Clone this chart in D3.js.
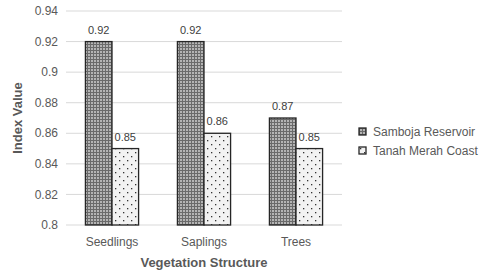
<!DOCTYPE html>
<html>
<head>
<meta charset="utf-8">
<script src="https://cdn.jsdelivr.net/npm/d3@7"></script>
<style>
  body { margin: 0; background: #fff; }
  text { font-family: "Liberation Sans", Arial, sans-serif; }
</style>
</head>
<body>
<svg id="chart" width="485" height="272"></svg>
<script>
const categories = ['Seedlings', 'Saplings', 'Trees']
const seriesNames = ['Samboja Reservoir', 'Tanah Merah Coast']
const samboja = [0.92, 0.92, 0.87]
const tanahMerah = [0.85, 0.86, 0.85]
const yTicks = [0.8, 0.82, 0.84, 0.86, 0.88, 0.9, 0.92, 0.94]

const svg = d3.select('#chart')
const margin = { left: 66, right: 143, top: 11, bottom: 47 }
const width = 485 - margin.left - margin.right
const height = 272 - margin.top - margin.bottom

// patterns for the two series
const defs = svg.append('defs')
const grid = defs.append('pattern')
  .attr('id', 'pat-grid').attr('patternUnits', 'userSpaceOnUse')
  .attr('width', 3).attr('height', 3)
grid.append('rect').attr('width', 3).attr('height', 3).attr('fill', '#b4b4b4')
grid.append('path').attr('d', 'M0,0.5H3M0.5,0V3').attr('stroke', '#6a6a6a').attr('stroke-width', 1)

const dots = defs.append('pattern')
  .attr('id', 'pat-dots').attr('patternUnits', 'userSpaceOnUse')
  .attr('width', 8).attr('height', 8)
dots.append('rect').attr('width', 8).attr('height', 8).attr('fill', '#f2f2f2')
dots.append('rect').attr('x', 1).attr('y', 1).attr('width', 1.3).attr('height', 1.3).attr('fill', '#333')
dots.append('rect').attr('x', 5).attr('y', 5).attr('width', 1.3).attr('height', 1.3).attr('fill', '#333')

const g = svg.append('g').attr('transform', `translate(${margin.left},${margin.top})`)

const x = d3.scaleBand().domain(categories).range([0, width]).paddingInner(0).paddingOuter(0)
const x1 = d3.scaleBand().domain(seriesNames).range([0, x.bandwidth()]).paddingInner(0).paddingOuter(0.73)
const y = d3.scaleLinear().domain([0.8, 0.94]).range([height, 0])

// gridlines
g.selectAll('.grid').data(yTicks).enter().append('line')
  .attr('x1', 0).attr('x2', width)
  .attr('y1', d => y(d)).attr('y2', d => y(d))
  .attr('stroke', '#d9d9d9').attr('stroke-width', 1)

// y tick labels
g.selectAll('.ytick').data(yTicks).enter().append('text')
  .attr('x', -8).attr('y', d => y(d)).attr('dy', '0.35em')
  .attr('text-anchor', 'end').attr('font-size', 12).attr('fill', '#595959')
  .text(d => d3.format('~g')(d))

const rows = categories.map((c, i) => ({ cat: c, vals: [samboja[i], tanahMerah[i]] }))
const fills = ['url(#pat-grid)', 'url(#pat-dots)']

const groups = g.selectAll('.cat').data(rows).enter().append('g')
  .attr('transform', d => `translate(${x(d.cat)},0)`)

groups.selectAll('rect').data(d => d.vals.map((v, k) => ({ name: seriesNames[k], v, k })))
  .enter().append('rect')
  .attr('x', d => x1(d.name)).attr('width', x1.bandwidth())
  .attr('y', d => y(d.v)).attr('height', d => height - y(d.v))
  .attr('fill', d => fills[d.k]).attr('stroke', '#262626').attr('stroke-width', 1.3)

groups.selectAll('.lbl').data(d => d.vals.map((v, k) => ({ name: seriesNames[k], v })))
  .enter().append('text')
  .attr('x', d => x1(d.name) + x1.bandwidth() / 2).attr('y', d => y(d.v) - 8)
  .attr('text-anchor', 'middle').attr('font-size', 11).attr('fill', '#404040')
  .text(d => d3.format('.2f')(d.v))

// category labels
g.selectAll('.xtick').data(categories).enter().append('text')
  .attr('x', d => x(d) + x.bandwidth() / 2).attr('y', height + 21)
  .attr('text-anchor', 'middle').attr('font-size', 12).attr('fill', '#595959')
  .text(d => d)

// axis titles
g.append('text').attr('x', width / 2).attr('y', height + 42)
  .attr('text-anchor', 'middle').attr('font-size', 13).attr('font-weight', 'bold').attr('fill', '#595959')
  .text('Vegetation Structure')
svg.append('text').attr('transform', 'translate(22,118) rotate(-90)')
  .attr('text-anchor', 'middle').attr('font-size', 13).attr('font-weight', 'bold').attr('fill', '#595959')
  .text('Index Value')

// legend
const legend = svg.append('g').attr('transform', 'translate(359,128)')
seriesNames.forEach((name, i) => {
  const row = legend.append('g').attr('transform', `translate(0,${i * 19})`)
  row.append('rect').attr('width', 7).attr('height', 7)
    .attr('fill', fills[i]).attr('stroke', '#262626').attr('stroke-width', 1.3)
  row.append('text').attr('x', 14).attr('y', 4).attr('dy', '0.35em')
    .attr('font-size', 12).attr('fill', '#595959').text(name)
})
</script>
</body>
</html>
